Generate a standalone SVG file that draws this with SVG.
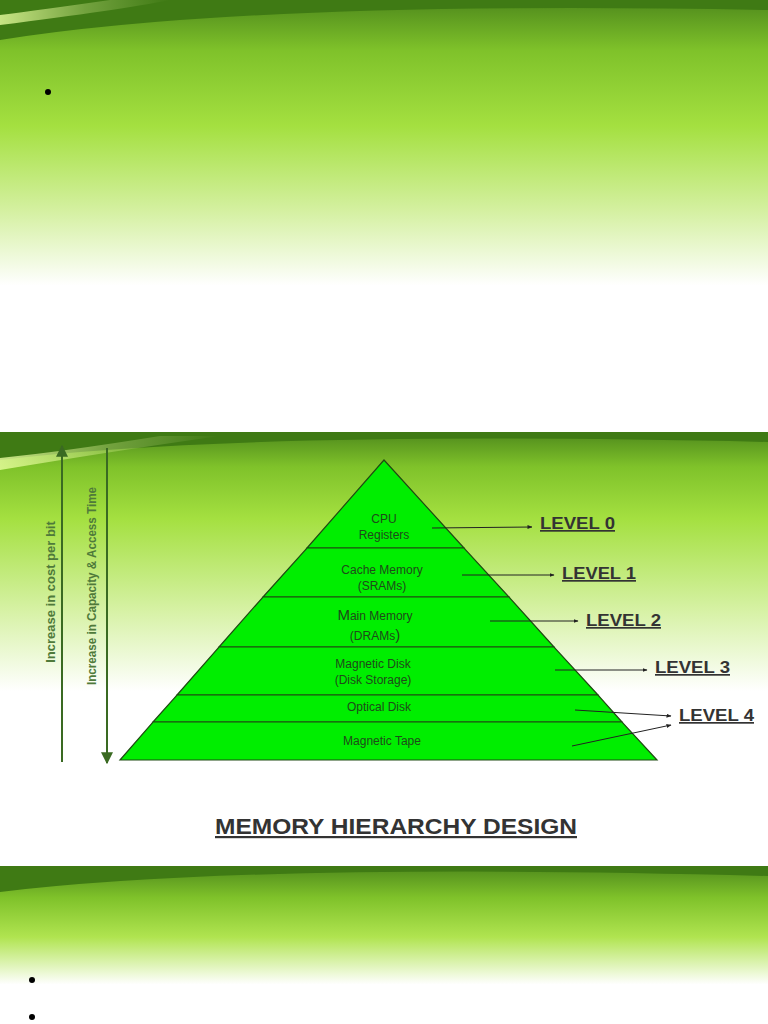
<svg xmlns="http://www.w3.org/2000/svg" width="768" height="1024" viewBox="0 0 768 1024">
<defs>
<linearGradient id="bg" x1="0" y1="0" x2="0" y2="1">
<stop offset="0" stop-color="#4f8a1c"/><stop offset="0.12" stop-color="#7fc22a"/><stop offset="0.3" stop-color="#a4e040"/><stop offset="0.5" stop-color="#d4f0a0"/><stop offset="0.68" stop-color="#ffffff"/><stop offset="1" stop-color="#ffffff"/>
</linearGradient>
<linearGradient id="bg2" x1="0" y1="0" x2="0" y2="1">
<stop offset="0" stop-color="#4f8a1c"/><stop offset="0.08" stop-color="#7fc22a"/><stop offset="0.2" stop-color="#a4e040"/><stop offset="0.42" stop-color="#d8f2a8"/><stop offset="0.6" stop-color="#ffffff"/><stop offset="1" stop-color="#ffffff"/>
</linearGradient>
<linearGradient id="bg3" x1="0" y1="0" x2="0" y2="1">
<stop offset="0" stop-color="#4f8a1c"/><stop offset="0.2" stop-color="#7fc22a"/><stop offset="0.45" stop-color="#b0e450"/><stop offset="0.75" stop-color="#ffffff"/><stop offset="1" stop-color="#ffffff"/>
</linearGradient>
<linearGradient id="hl" x1="0" y1="0" x2="1" y2="0">
<stop offset="0" stop-color="#eaffa0" stop-opacity="0.8"/><stop offset="0.5" stop-color="#eaffa0" stop-opacity="0.3"/><stop offset="1" stop-color="#eaffa0" stop-opacity="0"/>
</linearGradient>
<marker id="ah" viewBox="0 0 10 10" refX="9" refY="5" markerWidth="5" markerHeight="5" orient="auto"><path d="M0,1 L10,5 L0,9 z" fill="#222"/></marker>
<marker id="gh" viewBox="0 0 10 10" refX="9" refY="5" markerWidth="6" markerHeight="6" orient="auto"><path d="M0,0 L10,5 L0,10 z" fill="#3a6a22"/></marker>
</defs>
<style>
.band{fill:#00ee00;stroke:#1f4a12;stroke-width:1.2}
.t{font-family:"Liberation Sans",Arial,sans-serif;font-size:12px;fill:#1f4a1a;text-anchor:middle}
.lv{font-family:"Liberation Sans",Arial,sans-serif;font-size:17px;font-weight:bold;fill:#333;text-decoration:underline}
.c{stroke:#222;stroke-width:1;fill:none}
.side{font-family:"Liberation Sans",Arial,sans-serif;font-size:13px;font-weight:bold;fill:#4f7a3a;text-anchor:middle}
</style>
<rect width="768" height="1024" fill="#ffffff"/>
<g id="slide1">
<rect x="0" y="0" width="768" height="420" fill="url(#bg)"/>
<path d="M0,40 Q250,0 768,10 L768,0 L0,0 z" fill="#3f7a14"/>
<path d="M0,25 Q120,10 170,0 L110,0 Q40,10 0,15 z" fill="url(#hl)"/>
<circle cx="48" cy="92" r="3" fill="#000"/>
</g>
<g id="slide2">
<rect x="0" y="432" width="768" height="432" fill="url(#bg2)"/>
<path d="M0,460 Q250,430 768,442 L768,432 L0,432 z" fill="#3f7a14"/>
<path d="M0,470 Q120,450 220,436 L160,436 Q60,452 0,458 z" fill="url(#hl)"/>
</g>
<g id="slide3">
<rect x="0" y="866" width="768" height="158" fill="url(#bg3)"/>
<path d="M0,892 Q250,862 768,876 L768,866 L0,866 z" fill="#3f7a14"/>
<circle cx="32" cy="980" r="3" fill="#000"/>
<circle cx="32" cy="1017" r="3" fill="#000"/>
</g>
<g id="pyramid">
<g id="l0"><polygon class="band" points="384,460 464,548 307,548"/><text class="t" x="384" y="523">CPU</text><text class="t" x="384" y="539">Registers</text></g>
<g id="l1"><polygon class="band" points="307,548 464,548 509,597 263,597"/><text class="t" x="382" y="574">Cache Memory</text><text class="t" x="382" y="590">(SRAMs)</text></g>
<g id="l2"><polygon class="band" points="263,597 509,597 554,647 219,647"/><text class="t" x="375" y="620"><tspan font-size="15px">M</tspan>ain Memory</text><text class="t" x="375" y="640">(DRAMs<tspan font-size="15px">)</tspan></text></g>
<g id="l3"><polygon class="band" points="219,647 554,647 598,695 177,695"/><text class="t" x="373" y="668">Magnetic Disk</text><text class="t" x="373" y="684">(Disk Storage)</text></g>
<g id="l4"><polygon class="band" points="177,695 598,695 622,722 153,722"/><text class="t" x="379" y="711">Optical Disk</text></g>
<g id="l5"><polygon class="band" points="153,722 622,722 657,760 120,760"/><text class="t" x="382" y="745">Magnetic Tape</text></g>
</g>
<g id="labels">
<text class="lv" x="540" y="529" textLength="75" lengthAdjust="spacingAndGlyphs">LEVEL 0</text>
<text class="lv" x="562" y="579" textLength="74" lengthAdjust="spacingAndGlyphs">LEVEL 1</text>
<text class="lv" x="586" y="626" textLength="75" lengthAdjust="spacingAndGlyphs">LEVEL 2</text>
<text class="lv" x="655" y="673" textLength="75" lengthAdjust="spacingAndGlyphs">LEVEL 3</text>
<text class="lv" x="679" y="721" textLength="75" lengthAdjust="spacingAndGlyphs">LEVEL 4</text>
<text class="side" transform="translate(55,592) rotate(-90)">Increase in cost per bit</text>
<text class="side" transform="translate(96,586) rotate(-90)" textLength="198" lengthAdjust="spacingAndGlyphs">Increase in Capacity &amp; Access Time</text>
<text x="396" y="834" font-family="Liberation Sans,Arial,sans-serif" font-size="22" font-weight="bold" fill="#333" text-anchor="middle" text-decoration="underline" textLength="362" lengthAdjust="spacingAndGlyphs">MEMORY HIERARCHY DESIGN</text>
</g>
<g id="connectors">
<line class="c" x1="432" y1="528" x2="532" y2="527" marker-end="url(#ah)"/>
<line class="c" x1="462" y1="575" x2="554" y2="575" marker-end="url(#ah)"/>
<line class="c" x1="490" y1="621" x2="578" y2="621" marker-end="url(#ah)"/>
<line class="c" x1="555" y1="670" x2="647" y2="670" marker-end="url(#ah)"/>
<line class="c" x1="575" y1="710" x2="671" y2="716" marker-end="url(#ah)"/>
<line class="c" x1="572" y1="746" x2="671" y2="725" marker-end="url(#ah)"/>
<line x1="62" y1="762" x2="62" y2="446" stroke="#3a6a22" stroke-width="2" marker-end="url(#gh)"/>
<line x1="107" y1="448" x2="107" y2="763" stroke="#3a6a22" stroke-width="2" marker-end="url(#gh)"/>
</g>
</svg>
